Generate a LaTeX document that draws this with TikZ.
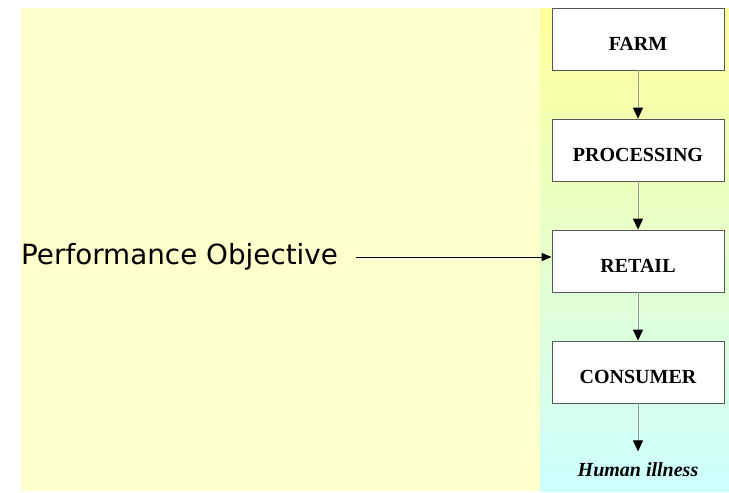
\documentclass[tikz,border=0pt]{standalone}
\usepackage{fontspec}
\setmainfont{Liberation Serif}
\newfontfamily\objfont{DejaVu Sans}
\usetikzlibrary{arrows.meta, positioning}
\definecolor{paleYellow}{HTML}{FFFFCC}
\definecolor{bandTop}{HTML}{FFFF99}
\definecolor{bandBottom}{HTML}{CCFFFF}
\definecolor{boxEdge}{HTML}{555555}
\definecolor{stemGray}{HTML}{999999}

\begin{document}
\begin{tikzpicture}[
    x=1pt, y=-1pt,
    stage/.style={rectangle, draw=boxEdge, fill=white, line width=0.8pt,
                  minimum width=172pt, minimum height=62pt, inner sep=0pt,
                  text height=23pt, text depth=0pt,
                  font=\fontsize{20}{24}\selectfont\bfseries},
    flow/.style={draw=stemGray, line width=1pt, -{Triangle[width=10pt,length=11pt,black]}},
    pointer/.style={draw=black, line width=1pt, -{Triangle[width=8pt,length=10pt]}}
  ]
    \useasboundingbox (0,0) rectangle (729,493);
    % backdrop: plain panel and the shaded chain column
    \fill[paleYellow] (21,8) rectangle (540,491);
    \shade[top color=bandTop, bottom color=bandBottom] (540,8) rectangle (729,491);

    \node[stage] (farm) at (638,39) {FARM};
    \node[stage] (processing) at (638,150) {PROCESSING};
    \node[stage] (retail) at (638,261) {RETAIL};
    \node[stage] (consumer) at (638,372) {CONSUMER};
    \node[font=\fontsize{20}{24}\selectfont\bfseries\itshape] (illness) at (638,470) {Human illness};

    \draw[flow] (farm) -- (processing);
    \draw[flow] (processing) -- (retail);
    \draw[flow] (retail) -- (consumer);
    \draw[flow, shorten >=8pt] (consumer) -- (illness);

    \node[anchor=west, inner sep=0pt, font=\objfont\fontsize{27.8}{33}\selectfont] (objective) at (21,257) {Performance Objective};
    \draw[pointer, shorten <=18pt] (objective) -- (objective -| retail.west);
  \end{tikzpicture}
\end{document}
